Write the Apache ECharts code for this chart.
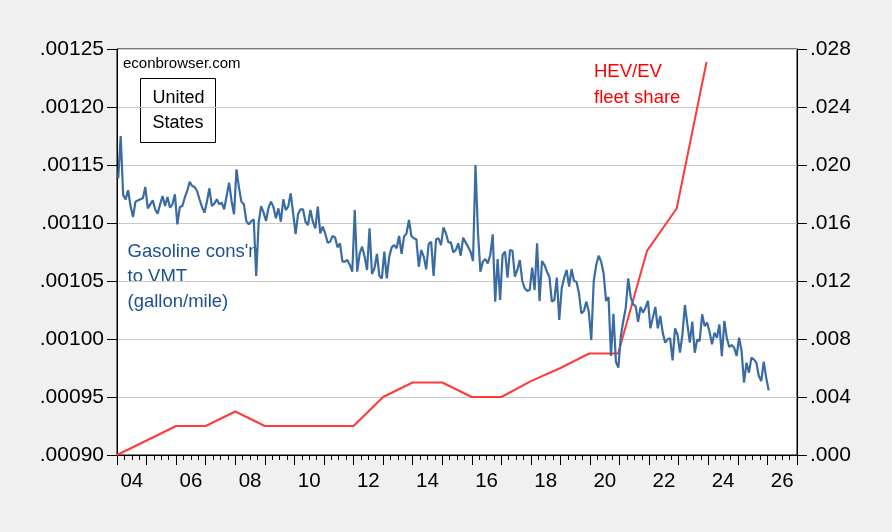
<!DOCTYPE html>
<html>
<head>
<meta charset="utf-8">
<script src="https://cdn.jsdelivr.net/npm/echarts@6/dist/echarts.min.js"></script>
<style>
html, body { margin: 0; padding: 0; background: #f0f0f0; }
#chart { width: 892px; height: 532px; }
</style>
</head>
<body>
<div id="chart"></div>
<script>
// gasoline consumption to VMT (gallon/mile), monthly, first obs Jan 2004
const gasStartYear = 2004;
const gasPerMile = [
  0.0011385, 0.0011750, 0.0011241, 0.0011204, 0.0011282, 0.0011146, 0.0011052, 0.0011184, 0.0011195, 0.0011204,
  0.0011213, 0.0011310, 0.0011126, 0.0011161, 0.0011195, 0.0011118, 0.0011080, 0.0011161, 0.0011233, 0.0011146,
  0.0011224, 0.0011132, 0.0011161, 0.0011247, 0.0010988, 0.0011138, 0.0011146, 0.0011218, 0.0011276, 0.0011356,
  0.0011319, 0.0011310, 0.0011276, 0.0011204, 0.0011138, 0.0011089, 0.0011184, 0.0011299, 0.0011146, 0.0011167,
  0.0011204, 0.0011161, 0.0011175, 0.0011118, 0.0011233, 0.0011348, 0.0011190, 0.0011075, 0.0011463, 0.0011305,
  0.0011184, 0.0011161, 0.0011017, 0.0010988, 0.0011017, 0.0011032, 0.0010543, 0.0011003, 0.0011146, 0.0011089,
  0.0011017, 0.0011132, 0.0011184, 0.0011138,
  0.0011040, 0.0011126, 0.0011011, 0.0011204, 0.0011112, 0.0011141, 0.0011256, 0.0011083, 0.0010905, 0.0011078,
  0.0011118, 0.0011118, 0.0011011, 0.0010983, 0.0011112, 0.0011011, 0.0010954, 0.0011141, 0.0010911, 0.0010968,
  0.0010911, 0.0010830, 0.0010839, 0.0010888, 0.0010876, 0.0010790, 0.0010825, 0.0010667, 0.0010667, 0.0010681,
  0.0010638, 0.0010580, 0.0011112, 0.0010580, 0.0010738, 0.0010796, 0.0010710, 0.0010595, 0.0010954, 0.0010560,
  0.0010609, 0.0010733, 0.0010543, 0.0010523, 0.0010753, 0.0010523, 0.0010710, 0.0010790, 0.0010810, 0.0010782,
  0.0010888, 0.0010733, 0.0010882, 0.0010911, 0.0011026, 0.0010888, 0.0010868, 0.0010859, 0.0010623, 0.0010767,
  0.0010710, 0.0010600, 0.0010819, 0.0010839, 0.0010543, 0.0010859, 0.0010868, 0.0010810, 0.0010963,
  0.0010911, 0.0010833, 0.0010833, 0.0010747, 0.0010767, 0.0010825, 0.0010718, 0.0010873, 0.0010833, 0.0010796,
  0.0010753, 0.0010672, 0.0011500, 0.0010925, 0.0010580, 0.0010667, 0.0010690, 0.0010652, 0.0010724, 0.0010902,
  0.0010322, 0.0010690, 0.0010336, 0.0010724, 0.0010753, 0.0010529, 0.0010767, 0.0010761, 0.0010537, 0.0010595,
  0.0010681, 0.0010500, 0.0010437, 0.0010414, 0.0010422, 0.0010615, 0.0010422, 0.0010825, 0.0010327, 0.0010672,
  0.0010638, 0.0010580, 0.0010537, 0.0010322, 0.0010336, 0.0010529, 0.0010164, 0.0010437, 0.0010529, 0.0010595,
  0.0010451, 0.0010603, 0.0010500, 0.0010494, 0.0010394, 0.0010221, 0.0010241, 0.0010322, 0.0010235, 0.0009991,
  0.0010500, 0.0010638, 0.0010718, 0.0010667, 0.0010566,
  0.0010328, 0.0010362, 0.0009853, 0.0010218, 0.0009804, 0.0009753, 0.0010026, 0.0010155, 0.0010270, 0.0010523,
  0.0010362, 0.0010299, 0.0010284, 0.0010149, 0.0010276, 0.0010227, 0.0010270, 0.0010328, 0.0010092, 0.0010184,
  0.0010276, 0.0010092, 0.0010198, 0.0010055, 0.0009968, 0.0009997, 0.0010006, 0.0009816, 0.0010092, 0.0010040,
  0.0009882, 0.0010040, 0.0010293, 0.0010126, 0.0009968, 0.0010149, 0.0009882, 0.0009997, 0.0009983, 0.0010213,
  0.0010112, 0.0010141, 0.0010063, 0.0009954, 0.0010055, 0.0010011, 0.0010126, 0.0009853, 0.0010155, 0.0010011,
  0.0009931, 0.0009948, 0.0009925, 0.0009853, 0.0010011, 0.0009896, 0.0009623, 0.0009796, 0.0009710, 0.0009839,
  0.0009825, 0.0009796, 0.0009681, 0.0009638, 0.0009804, 0.0009667, 0.0009557
];

// HEV/EV fleet share, annual points
const fleetYears = [2004, 2005, 2006, 2007, 2008, 2009, 2010, 2011, 2012, 2013, 2014,
  2015, 2016, 2017, 2018, 2019, 2019.97, 2020.95, 2021.93, 2022.93, 2023.94];
const fleetShare = [0.0000, 0.0010, 0.0020, 0.0020, 0.0030, 0.0020, 0.0020, 0.0020, 0.0020, 0.0040, 0.0050,
  0.0050, 0.0040, 0.0040, 0.0051, 0.0060, 0.0070, 0.0070, 0.0141, 0.0170, 0.0271];

// axis ticks
const tickYears = [];
for (let y = 2004; y <= 2027; y++) tickYears.push(y);
const yearLabels = ['04', '06', '08', '10', '12', '14', '16', '18', '20', '22', '24', '26'];
const yearLabelPos = yearLabels.map((s, i) => 2004.5 + 2 * i);

const FONT = '"Liberation Sans", Arial, sans-serif';
const BLUE = '#3a6ca3';
const RED = '#ff3a3a';

const gasData = gasPerMile.map((v, i) => [gasStartYear + (i + 0.5) / 12, v]);
const fleetData = fleetYears.map((y, i) => [y, fleetShare[i]]);

const chart = echarts.init(document.getElementById('chart'));
chart.setOption({
    backgroundColor: '#f0f0f0',
    animation: false,
    textStyle: { fontFamily: FONT },
    grid: {
        left: 117, right: 95, top: 49, bottom: 77,
        show: true, backgroundColor: '#fff', borderColor: '#000', borderWidth: 1
    },
    xAxis: {
        type: 'value', min: 2004, max: 2027, interval: 1,
        axisLine: { show: true, onZero: false, lineStyle: { color: '#000', width: 1 } },
        axisTick: { show: true, length: 10, customValues: tickYears, lineStyle: { color: '#000' } },
        minorTick: { show: true, splitNumber: 4, length: 5, lineStyle: { color: '#000' } },
        axisLabel: {
            customValues: yearLabelPos,
            formatter: v => String(Math.floor(v) % 100).padStart(2, '0'),
            fontSize: 20.5, color: '#000', margin: 16, fontFamily: FONT
        },
        splitLine: { show: false },
        minorSplitLine: { show: false }
    },
    yAxis: [
        {
            type: 'value', position: 'left', min: 0.0009, max: 0.00125, interval: 0.00005,
            axisLine: { show: true, lineStyle: { color: '#000' } },
            axisTick: { show: true, length: 10, lineStyle: { color: '#000' } },
            axisLabel: { formatter: v => v.toFixed(5).slice(1), fontSize: 21, color: '#000', margin: 13, fontFamily: FONT },
            splitLine: { show: true, lineStyle: { color: '#c8c8c8', width: 1 } }
        },
        {
            type: 'value', position: 'right', min: 0, max: 0.028, interval: 0.004,
            axisLine: { show: true, lineStyle: { color: '#000' } },
            axisTick: { show: true, length: 10, lineStyle: { color: '#000' } },
            axisLabel: { formatter: v => v.toFixed(3).slice(1), fontSize: 21, color: '#000', margin: 13, fontFamily: FONT },
            splitLine: { show: false }
        }
    ],
    series: [
        {
            name: 'Gasoline cons\'n to VMT', type: 'line', data: gasData,
            showSymbol: false, lineStyle: { color: BLUE, width: 2.2 }, z: 3
        },
        {
            name: 'HEV/EV fleet share', type: 'line', yAxisIndex: 1, data: fleetData,
            showSymbol: false, lineStyle: { color: RED, width: 2 }, z: 2
        }
    ],
    graphic: [
        { type: 'text', x: 123, y: 64, style: { text: 'econbrowser.com', font: '15px ' + FONT, fill: '#000', verticalAlign: 'middle' } },
        { type: 'rect', shape: { x: 140.5, y: 78.5, width: 75, height: 64 }, style: { fill: '#fff', stroke: '#000', lineWidth: 1 } },
        { type: 'text', x: 152.5, y: 98, style: { text: 'United', font: '18px ' + FONT, fill: '#000', verticalAlign: 'middle' } },
        { type: 'text', x: 152.5, y: 123, style: { text: 'States', font: '18px ' + FONT, fill: '#000', verticalAlign: 'middle' } },
        { type: 'text', x: 127.5, y: 252, style: { text: 'Gasoline cons\'n', font: '18.5px ' + FONT, fill: '#1c4f93', verticalAlign: 'middle' } },
        { type: 'text', x: 127.5, y: 277, style: { text: 'to VMT', font: '18.5px ' + FONT, fill: '#1c4f93', verticalAlign: 'middle' } },
        { type: 'text', x: 127.5, y: 302, style: { text: '(gallon/mile)', font: '18.5px ' + FONT, fill: '#1c4f93', verticalAlign: 'middle' } },
        { type: 'text', x: 594, y: 72, style: { text: 'HEV/EV', font: '18.5px ' + FONT, fill: '#ff0000', verticalAlign: 'middle' } },
        { type: 'text', x: 594, y: 98, style: { text: 'fleet share', font: '18.5px ' + FONT, fill: '#ff0000', verticalAlign: 'middle' } }
    ]
});
</script>
</body>
</html>
